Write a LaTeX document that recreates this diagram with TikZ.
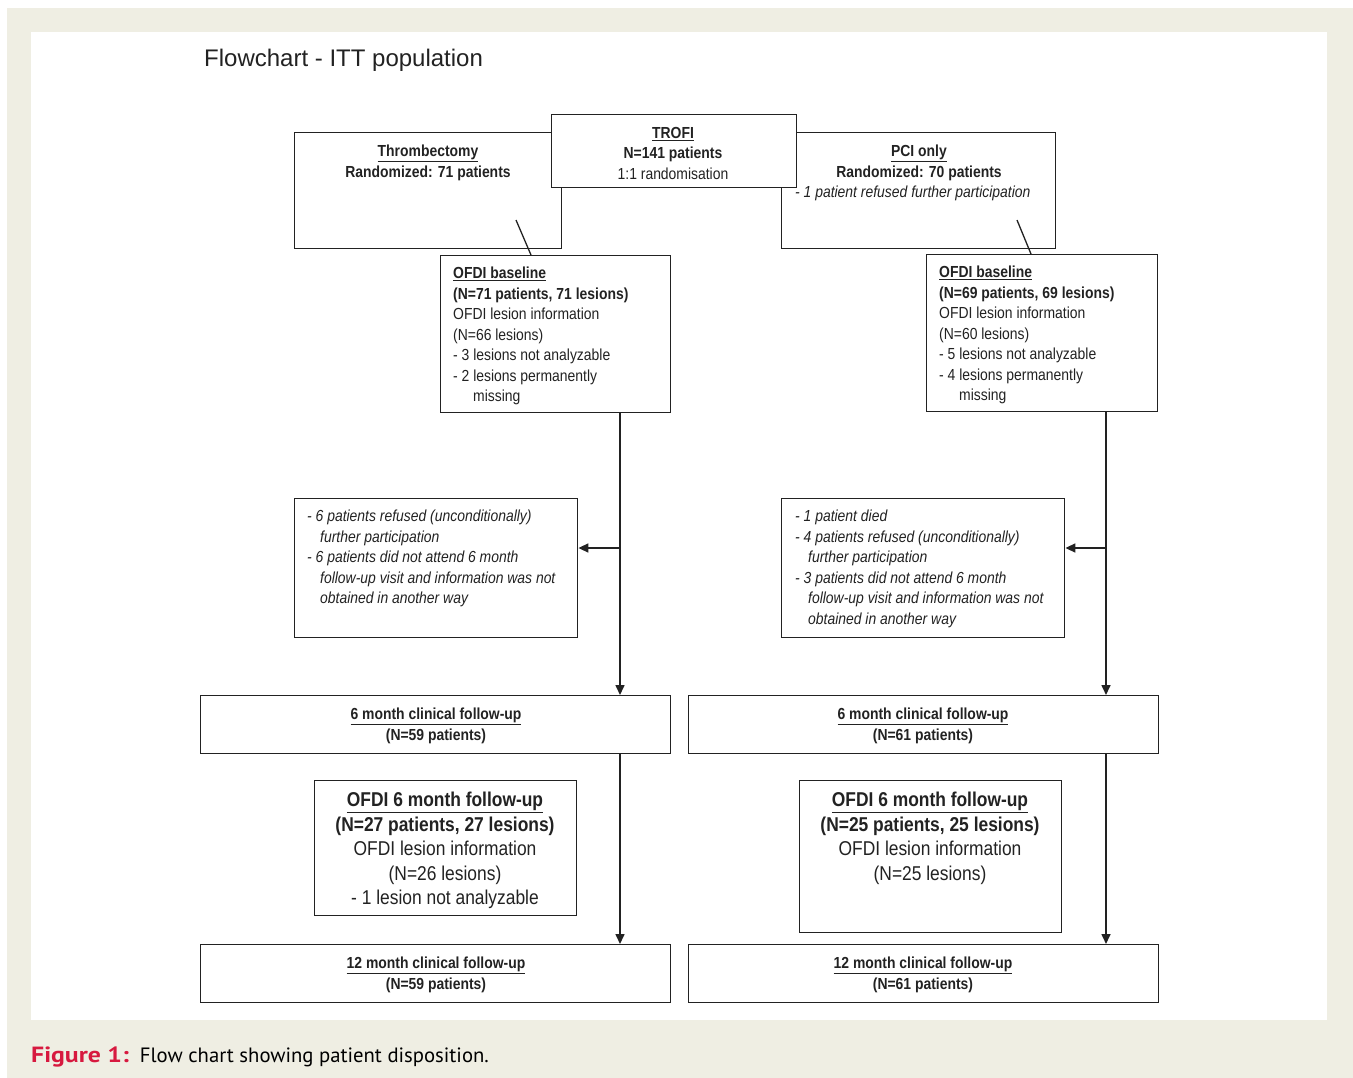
\documentclass[tikz,border=0pt]{standalone}
\usepackage{fontspec}
\setmainfont{Liberation Sans}
\newfontfamily\nar[FakeStretch=0.87]{Liberation Sans}
\newfontfamily\capfont{PT Sans}
\newfontfamily\capbold[FakeStretch=1.17]{PT Sans}
\usetikzlibrary{arrows.meta,calc}
\definecolor{bg}{HTML}{EFEEE3}
\definecolor{ink}{HTML}{222222}
\definecolor{figred}{HTML}{D7193F}
\begin{document}
\begin{tikzpicture}[x=1pt,y=-1pt,
 box/.style={draw=ink,line width=1.4pt,fill=white,inner sep=0pt,anchor=north west},
 txt/.style={inner sep=0pt,text=ink,font=\nar\fontsize{16}{20.5}\selectfont},
 bigtxt/.style={inner sep=0pt,text=ink,font=\nar\fontsize{20}{24.5}\selectfont},
 conn/.style={draw=ink,line width=1.6pt},
 arr/.style={conn,-{Triangle[length=10pt,width=9pt]}}]
\useasboundingbox (0,0) rectangle (1353,1078);
\fill[white] (0,0) rectangle (1353,1078);
\fill[bg] (7,8) rectangle (1353,1078);
\fill[white] (31,32) rectangle (1327,1020);

% title
\node[anchor=base west,inner sep=0pt,text=ink,font=\fontsize{24}{28}\selectfont] (title) at (204,67) {Flowchart - ITT population};

% boxes
\node[box,minimum width=267pt,minimum height=116pt] (thr) at (294,132) {};
\node[box,minimum width=274pt,minimum height=116pt] (pci) at (781,132) {};
\node[box,minimum width=245pt,minimum height=73pt] (trofi) at (551,114) {};
\node[box,minimum width=230pt,minimum height=157pt] (lb) at (440,255) {};
\node[box,minimum width=231pt,minimum height=157pt] (rb) at (926,254) {};
\node[box,minimum width=283pt,minimum height=139pt] (exl) at (294,498) {};
\node[box,minimum width=283pt,minimum height=139pt] (exr) at (781,498) {};
\node[box,minimum width=470pt,minimum height=58pt] (sixl) at (200,695) {};
\node[box,minimum width=470pt,minimum height=58pt] (sixr) at (688,695) {};
\node[box,minimum width=262pt,minimum height=135pt] (ol) at (314,780) {};
\node[box,minimum width=262pt,minimum height=152pt] (or) at (799,780) {};
\node[box,minimum width=470pt,minimum height=58pt] (twl) at (200,944) {};
\node[box,minimum width=470pt,minimum height=58pt] (twr) at (688,944) {};

% texts
\node[txt,anchor=north,align=center] (thrT) at (428,145) {\underline{\textbf{Thrombectomy}}\\\textbf{Randomized: 71 patients}};
\node[txt,anchor=north,align=center] (trofiT) at (673,127) {\underline{\textbf{TROFI}}\\\textbf{N=141 patients}\\1:1 randomisation};
\node[txt,anchor=north,align=center] (pciT) at (919,145) {\underline{\textbf{PCI only}}\\\textbf{Randomized: 70 patients}};
\node[txt,anchor=north west] (pciT2) at (795,186) {\itshape - 1 patient refused further participation};

\node[txt,anchor=north west,align=left] (lbT) at (453,267) {\underline{\textbf{OFDI baseline}}\\\textbf{(N=71 patients, 71 lesions)}\\OFDI lesion information\\(N=66 lesions)\\- 3 lesions not analyzable\\- 2 lesions permanently\\\hspace*{20pt}missing};
\node[txt,anchor=north west,align=left] (rbT) at (939,266) {\underline{\textbf{OFDI baseline}}\\\textbf{(N=69 patients, 69 lesions)}\\OFDI lesion information\\(N=60 lesions)\\- 5 lesions not analyzable\\- 4 lesions permanently\\\hspace*{20pt}missing};

\node[txt,anchor=north west,align=left,font=\nar\itshape\fontsize{16}{20.5}\selectfont] (exlT) at (307,510) {- 6 patients refused (unconditionally)\\\hspace*{13pt}further participation\\- 6 patients did not attend 6 month\\\hspace*{13pt}follow-up visit and information was not\\\hspace*{13pt}obtained in another way};
\node[txt,anchor=north west,align=left,font=\nar\itshape\fontsize{16}{20.5}\selectfont] (exrT) at (795,510) {- 1 patient died\\- 4 patients refused (unconditionally)\\\hspace*{13pt}further participation\\- 3 patients did not attend 6 month\\\hspace*{13pt}follow-up visit and information was not\\\hspace*{13pt}obtained in another way};

\node[txt,anchor=north,align=center] (sixlT) at (436,708) {\underline{\textbf{6 month clinical follow-up}}\\\textbf{(N=59 patients)}};
\node[txt,anchor=north,align=center] (sixrT) at (923,708) {\underline{\textbf{6 month clinical follow-up}}\\\textbf{(N=61 patients)}};
\node[txt,anchor=north,align=center] (twlT) at (436,957) {\underline{\textbf{12 month clinical follow-up}}\\\textbf{(N=59 patients)}};
\node[txt,anchor=north,align=center] (twrT) at (923,957) {\underline{\textbf{12 month clinical follow-up}}\\\textbf{(N=61 patients)}};

\node[bigtxt,anchor=north,align=center] (olT) at (445,792) {\underline{\textbf{OFDI 6 month follow-up}}\\\textbf{(N=27 patients, 27 lesions)}\\OFDI lesion information\\(N=26 lesions)\\- 1 lesion not analyzable};
\node[bigtxt,anchor=north,align=center] (orT) at (930,792) {\underline{\textbf{OFDI 6 month follow-up}}\\\textbf{(N=25 patients, 25 lesions)}\\OFDI lesion information\\(N=25 lesions)};

% connectors
\coordinate (cL) at (620,0);
\coordinate (cR) at (1106,0);
\coordinate (jL) at (620,548);
\coordinate (jR) at (1106,548);
\coordinate (dL) at (516,220);
\coordinate (dLx) at (531,0);
\coordinate (dR) at (1017,220);
\coordinate (dRx) at (1031,0);
\draw[conn,line width=1.3pt] (dL) -- (lb.north -| dLx);
\draw[conn,line width=1.3pt] (dR) -- (rb.north -| dRx);
\draw[arr] (lb.south -| cL) -- (sixl.north -| cL);
\draw[arr] (rb.south -| cR) -- (sixr.north -| cR);
\draw[arr] (jL) -- (jL -| exl.east);
\draw[arr] (jR) -- (jR -| exr.east);
\draw[arr] (sixl.south -| cL) -- (twl.north -| cL);
\draw[arr] (sixr.south -| cR) -- (twr.north -| cR);

% caption
\node[anchor=base west,inner sep=0pt] (cap) at (31,1062) {{\capbold\bfseries\fontsize{22}{26}\selectfont\color{figred}Figure 1:}\hspace{11pt}{\capfont\fontsize{20.7}{24}\selectfont Flow chart showing patient disposition.}};
\end{tikzpicture}
\end{document}
